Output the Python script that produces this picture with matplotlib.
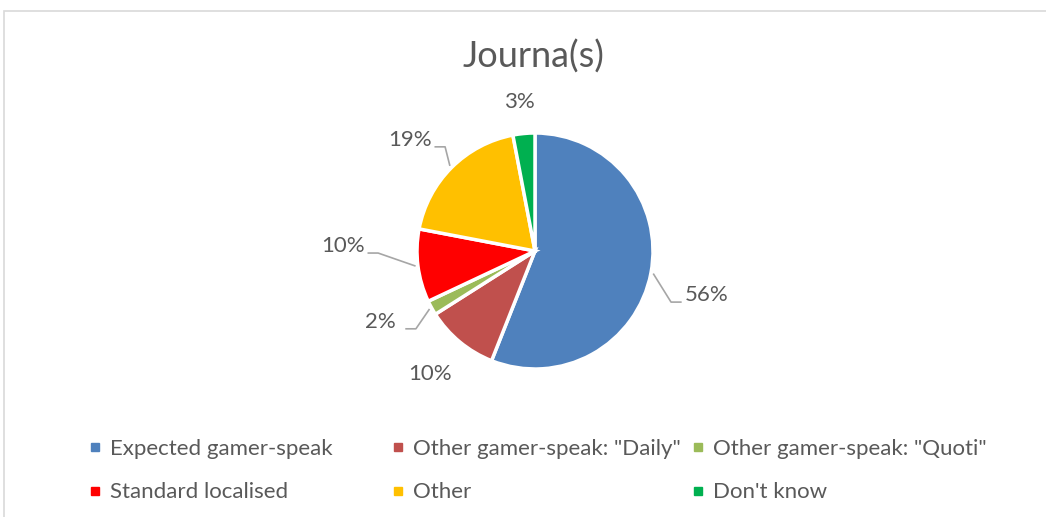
import numpy as np
import matplotlib
matplotlib.use("Agg")
import matplotlib.pyplot as plt
from matplotlib.lines import Line2D
from matplotlib.patches import Rectangle

plt.rcParams['font.family'] = ['Lato', 'DejaVu Sans']

categories = ['Expected gamer-speak', 'Other gamer-speak: "Daily"', 'Other gamer-speak: "Quoti"',
              'Standard localised', 'Other', "Don't know"]
shares = [56, 10, 2, 10, 19, 3]
colors = ['#4f81bd', '#c0504d', '#9bbb59', '#ff0000', '#ffc000', '#00b050']

# label placement per slice: (angle offset from slice middle in deg, radius), leader line or not
label_layout = [(-3.6, 1.50, True), (-0.9, 1.37, False), (-4.2, 1.44, True),
                (-8.7, 1.63, True), (3.4, 1.42, True), (0.6, 1.27, False)]

text_col = '#595959'
W, H = 1046, 517
fig = plt.figure(figsize=(W / 100, H / 100), dpi=100)
fig.patch.set_facecolor('white')

# chart frame
fig.patches.append(Rectangle((4 / W, -0.1), 1.2, 1 - 11 / H + 0.1, transform=fig.transFigure,
                             fill=False, edgecolor='#d9d9d9', linewidth=1.2))

# axes in pixel units so the pie center / radius land right
R = 118
cx, cy = 535, H - 251
ax = fig.add_axes([(cx - 2.0 * R) / W, (cy - 2.0 * R) / H, 4.0 * R / W, 4.0 * R / H])

wedges, _ = ax.pie(shares, colors=colors, startangle=90, counterclock=False, radius=1.0,
                   wedgeprops=dict(edgecolor='white', linewidth=2.5))
ax.set_xlim(-2, 2)
ax.set_ylim(-2, 2)
ax.set_aspect('equal')
ax.axis('off')

line_col = '#a6a6a6'
for w, val, (doff, rad, lead) in zip(wedges, shares, label_layout):
    mid = (w.theta1 + w.theta2) / 2
    a = np.deg2rad(mid + doff)
    lx, ly = rad * np.cos(a), rad * np.sin(a)
    ax.text(lx, ly, f'{val}%', ha='center', va='center', fontsize=16, color=text_col)
    if lead:
        m = np.deg2rad(mid)
        ex, ey = 1.02 * np.cos(m), 1.02 * np.sin(m)
        side = 1 if lx > 0 else -1
        end_x = lx - side * 0.21
        elbow_x = end_x - side * 0.09
        yy = ly - 0.06
        ax.plot([ex, elbow_x, end_x], [ey, yy, yy], color=line_col, lw=1.2,
                solid_capstyle='butt', clip_on=False)

fig.text(533 / W, 1 - 57 / H, 'Journa(s)', ha='center', va='center', fontsize=26, color=text_col)

# legend: three columns of two rows
col_x = [88, 391, 691]
for c in range(3):
    hs = []
    for r in range(2):
        i = r * 3 + c
        hs.append(Line2D([], [], marker='s', linestyle='none', markersize=5.5,
                         markerfacecolor=colors[i], markeredgecolor=colors[i], label=categories[i]))
    fig.legend(handles=hs, loc='upper left', bbox_to_anchor=(col_x[c] / W, 1 - 439 / H),
               frameon=False, fontsize=16, labelcolor=text_col, handlelength=0.6,
               handletextpad=0.4, labelspacing=1.05, borderpad=0, borderaxespad=0)

fig.savefig('out.png', dpi=100)
